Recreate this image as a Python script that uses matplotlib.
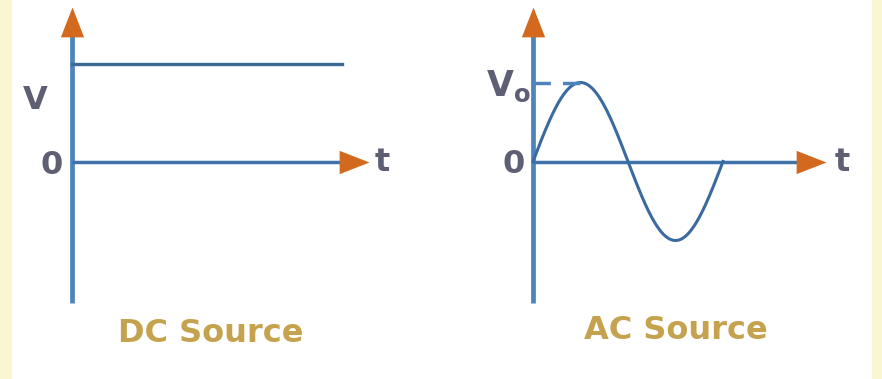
import numpy as np
import matplotlib
matplotlib.use("Agg")
import matplotlib.pyplot as plt
from matplotlib.patches import Rectangle

# --- data (in each panel's own units) ---
dc_t = [0.0, 1.0]          # DC level line runs over t = 0..1
dc_v = [1.0, 1.0]          # constant V
dc_t_axis = 1.10           # t-axis arrow tip
dc_v_axis = (-1.44, 1.58)  # vertical axis bottom / arrow tip

ac_amp = 1.0               # V0
ac_period = 1.0            # one full cycle drawn
ac_t_axis = 1.54
ac_v_axis = (-1.79, 1.96)

W, H = 882, 379
AXIS_BLUE = "#4d84bc"
LINE_BLUE = "#3b6aa0"
ORANGE = "#d2691e"
LABEL = "#5e5e74"
GOLD = "#c4a24e"

fig = plt.figure(figsize=(W / 100, H / 100), dpi=100)
fig.patch.set_facecolor("#faf6d2")
fig.patches.append(Rectangle((12 / W, 0), (872 - 12) / W, 1, transform=fig.transFigure,
                             facecolor="white", edgecolor="none", zorder=-10))


def place_axes(origin, ppu_x, ppu_y, xlim, ylim):
    # put an axes so that data (0, 0) lands on the given pixel origin
    ox, oy = origin
    left = ox + xlim[0] * ppu_x
    top = oy - ylim[1] * ppu_y
    width = (xlim[1] - xlim[0]) * ppu_x
    height = (ylim[1] - ylim[0]) * ppu_y
    ax = fig.add_axes([left / W, (H - top - height) / H, width / W, height / H])
    ax.set_xlim(*xlim)
    ax.set_ylim(*ylim)
    ax.axis("off")
    ax.patch.set_alpha(0)
    return ax


# custom arrow-head markers, tip at the marker origin
head_up = [(0, 0), (-0.39, -1), (0.39, -1), (0, 0)]
head_right = [(0, 0), (-1, 0.39), (-1, -0.39), (0, 0)]


def draw_axes(ax, t_end, v_range):
    ax.plot([0, 0], [v_range[0], v_range[1] - 0.1], color=AXIS_BLUE, lw=3.4,
            solid_capstyle="butt", clip_on=False, zorder=2)
    ax.plot([0, t_end - 0.05], [0, 0], color="#3f72a8", lw=2.5,
            solid_capstyle="butt", clip_on=False, zorder=2)
    ax.plot([0], [v_range[1]], marker=head_up, ms=43, color=ORANGE, mew=0,
            clip_on=False, zorder=3)
    ax.plot([t_end], [0], marker=head_right, ms=43, color=ORANGE, mew=0,
            clip_on=False, zorder=3)


label_kw = dict(color=LABEL, fontsize=23, fontweight="bold", ha="center", va="center",
                clip_on=False)
title_kw = dict(color=GOLD, fontsize=23, fontweight="bold", ha="center", va="center",
                clip_on=False)

# --- DC panel ---
ax1 = place_axes((72, 162), 270, 98, (-0.25, 1.3), (-1.8, 1.65))
draw_axes(ax1, dc_t_axis, dc_v_axis)
ax1.plot(dc_t, dc_v, color="#3d6a94", lw=2.4, zorder=2)
ax1.text(-0.137, 0.63, "V", **label_kw)
ax1.text(-0.075, -0.04, "0", **label_kw)
ax1.text(1.15, -0.01, "t", **label_kw)
ax1.text(0.515, -1.745, "DC Source", **title_kw)

# --- AC panel ---
ax2 = place_axes((533, 161.5), 190, 79, (-0.3, 1.7), (-2.2, 2.0))
draw_axes(ax2, ac_t_axis, ac_v_axis)
t = np.linspace(0, ac_period, 300)
ax2.plot(t, ac_amp * np.sin(2 * np.pi * t / ac_period), color=LINE_BLUE, lw=2.2, zorder=2)
ax2.plot([0, ac_period / 4], [ac_amp, ac_amp], color=AXIS_BLUE, lw=2.5,
         dashes=(5, 3.5), zorder=2)
ax2.text(-0.13, 0.95, r"V$_\mathbf{o}$", color=LABEL, fontsize=25, fontweight="bold",
         ha="center", va="center", clip_on=False)
ax2.text(-0.10, -0.04, "0", **label_kw)
ax2.text(1.63, -0.01, "t", **label_kw)
ax2.text(0.75, -2.14, "AC Source", **title_kw)

fig.savefig("out.png", dpi=100, facecolor=fig.get_facecolor())
